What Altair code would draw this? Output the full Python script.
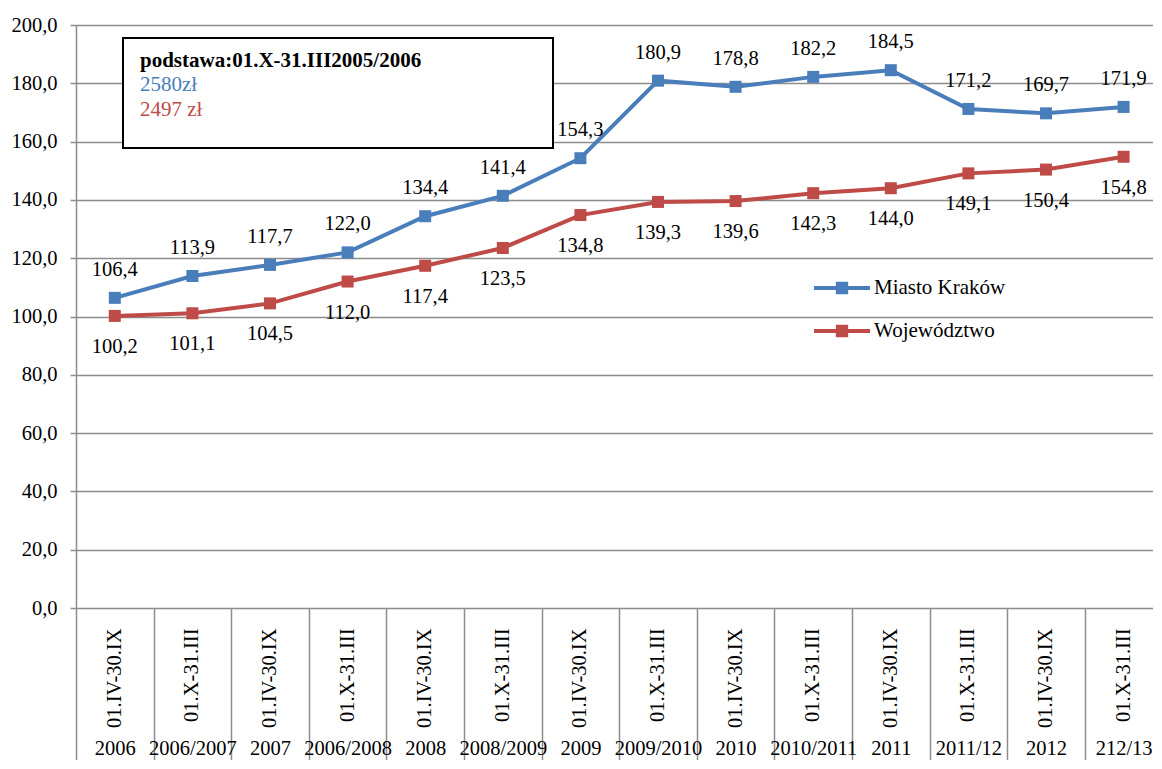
import altair as alt
import pandas as pd

# ---------------- data ----------------
years = ["2006", "2006/2007", "2007", "2006/2008", "2008", "2008/2009", "2009",
         "2009/2010", "2010", "2010/2011", "2011", "2011/12", "2012", "212/13"]
periods = ["01.IV-30.IX", "01.X-31.III"] * 7
krakow = [106.4, 113.9, 117.7, 122.0, 134.4, 141.4, 154.3,
          180.9, 178.8, 182.2, 184.5, 171.2, 169.7, 171.9]
wojewodztwo = [100.2, 101.1, 104.5, 112.0, 117.4, 123.5, 134.8,
               139.3, 139.6, 142.3, 144.0, 149.1, 150.4, 154.8]
series_names = ["Miasto Kraków", "Województwo"]
series_colors = ["#4A7EBB", "#BE4B48"]
y_ticks = list(range(0, 201, 20))
note_title = "podstawa:01.X-31.III2005/2006"
note_lines = ["2580zł", "2497 zł"]

keys = [f"{y}|{p}" for y, p in zip(years, periods)]
rows = []
for k, a, b in zip(keys, krakow, wojewodztwo):
    rows.append({"key": k, "series": series_names[0], "value": a})
    rows.append({"key": k, "series": series_names[1], "value": b})
df = pd.DataFrame(rows)
df["label"] = df["value"].map(lambda v: f"{v:.1f}".replace(".", ","))

# ---------------- styling ----------------
FONT = "Liberation Serif"
FS = 20.5
FS_BIG = 21
GRID = "#8c8c8c"
BAND = 77.6
W, H = 1077, 583

xscale = alt.Scale(type="band", domain=keys, range=[0, BAND * len(keys)],
                   paddingInner=0, paddingOuter=0)

x_main = alt.X(
    "key:N", scale=xscale,
    axis=alt.Axis(orient="bottom", title=None, labelAngle=270,
                  labelExpr="isValid(datum.value) ? split(datum.value, '|')[1] : ''",
                  ticks=False, domain=False, grid=False, labelPadding=20,
                  labelFont=FONT, labelFontSize=FS, labelColor="black",
                  labelOverlap=False),
)
y_enc = alt.Y(
    "value:Q", scale=alt.Scale(domain=[0, 200], nice=False),
    axis=alt.Axis(values=y_ticks, title=None,
                  labelExpr="replace(format(datum.value, '.1f'), '.', ',')",
                  grid=True, gridColor=GRID, gridWidth=1.5,
                  domain=True, domainColor=GRID, domainWidth=1.5,
                  ticks=True, tickColor=GRID, tickWidth=1.5, tickSize=6,
                  labelPadding=13, labelFont=FONT, labelFontSize=FS,
                  labelColor="black"),
)

LEG_PATH = ("M-1,-0.075H1V0.075H-1Z "
            "M-0.22,-0.22H0.22V0.22H-0.22Z")
color_scale = alt.Scale(domain=series_names, range=series_colors)
legend = alt.Legend(orient="none", legendX=738, legendY=235, title=None,
                    symbolType=LEG_PATH, symbolSize=3136,
                    symbolStrokeWidth=0, symbolOpacity=1,
                    labelFont=FONT, labelFontSize=FS_BIG, labelColor="black",
                    labelOffset=4, rowPadding=5, padding=0)
color_enc = alt.Color("series:N", scale=color_scale, legend=legend)

base = alt.Chart(df)
lines = base.mark_line(strokeWidth=4).encode(x=x_main, y=y_enc, color=color_enc)
points = base.mark_point(shape="square", filled=True, size=144, opacity=1).encode(
    x=x_main, y=y_enc, color=color_enc)
lab_k = base.transform_filter(alt.datum.series == series_names[0]).mark_text(
    dy=-28, font=FONT, fontSize=FS, color="black").encode(x=x_main, y=y_enc, text="label:N")
lab_w = base.transform_filter(alt.datum.series == series_names[1]).mark_text(
    dy=31, font=FONT, fontSize=FS, color="black").encode(x=x_main, y=y_enc, text="label:N")

note_df = pd.DataFrame({"t": [note_title]})
box = alt.Chart(note_df).mark_rect(fill="white", stroke="black", strokeWidth=2).encode(
    x=alt.value(47), x2=alt.value(477), y=alt.value(13), y2=alt.value(123))
t0 = alt.Chart(note_df).mark_text(align="left", baseline="middle", font=FONT, fontSize=FS_BIG,
                                  fontWeight="bold", color="black").encode(
    x=alt.value(64), y=alt.value(36), text="t:N")
t1 = alt.Chart(pd.DataFrame({"t": [note_lines[0]]})).mark_text(
    align="left", baseline="middle", font=FONT, fontSize=FS_BIG, color=series_colors[0]).encode(
    x=alt.value(64), y=alt.value(60), text="t:N")
t2 = alt.Chart(pd.DataFrame({"t": [note_lines[1]]})).mark_text(
    align="left", baseline="middle", font=FONT, fontSize=FS_BIG, color=series_colors[1]).encode(
    x=alt.value(64), y=alt.value(85), text="t:N")

main = alt.layer(lines, points, lab_k, lab_w, box, t0, t1, t2)

years_layer = alt.Chart(pd.DataFrame({"key": keys})).mark_point(opacity=0).encode(
    x=alt.X("key:N", scale=xscale,
            axis=alt.Axis(orient="bottom", title=None, labelAngle=0,
                          labelExpr="isValid(datum.value) ? split(datum.value, '|')[0] : ''",
                          tickBand="extent", ticks=True, tickSize=165,
                          tickColor=GRID, tickWidth=1.5,
                          domain=False, grid=False, labelPadding=-35,
                          labelFont=FONT, labelFontSize=FS, labelColor="black",
                          labelOverlap=False)))

chart = alt.layer(main, years_layer).resolve_scale(x="independent").properties(
    width=W, height=H,
    autosize=alt.AutoSizeParams(type="none"),
    padding={"left": 68, "top": 17, "right": 0, "bottom": 152},
).configure(background="white", font=FONT).configure_view(strokeWidth=0).configure_axis(
    labelFont=FONT).configure_text(font=FONT).configure_legend(labelFont=FONT)

chart.save("out.html", embed_options={"renderer": "svg", "actions": False})
